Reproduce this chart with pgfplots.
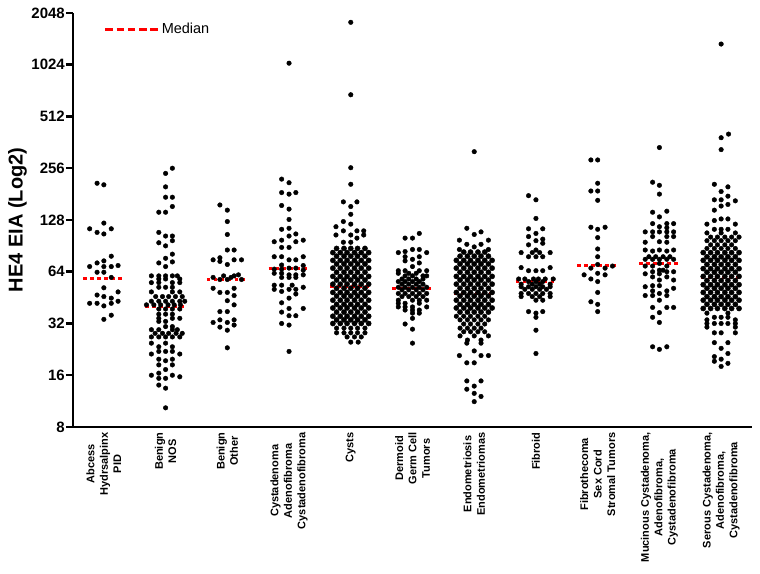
\documentclass[border=0pt]{standalone}
\usepackage{pgfplots}
\pgfplotsset{compat=1.18}
\usepackage{fontspec}
\setmainfont{Liberation Sans}
\usetikzlibrary{calc}
\begin{document}
\begin{tikzpicture}
\begin{axis}[name=ax,
  scale only axis, width=679pt, height=414pt,
  xmin=-0.5, xmax=10.5, ymin=3, ymax=11,
  axis lines*=left,
  axis line style={line width=2.8pt},
  xtick={0,...,10},
  xticklabels={{Abcess\\Hydrsalpinx\\PID},{Benign\\NOS},{Benign\\Other},{Cystadenoma\\Adenofibroma\\Cystadenofibroma},{Cysts},{Dermoid\\Germ Cell\\Tumors},{Endometriosis\\Endometriomas},{Fibroid},{Fibrothecoma\\Sex Cord\\Stromal Tumors},{Mucinous Cystadenoma,\\Adenofibroma,\\Cystadenofibroma},{Serous Cystadenoma,\\Adenofibroma,\\Cystadenofibroma}},
  xticklabel style={rotate=90, anchor=east, align=center, font=\fontsize{11}{13.4}\selectfont\bfseries},
  xticklabel shift=-5pt,
  xtick style={draw=none},
  ytick={3,...,11},
  yticklabels={\textbf{8},\textbf{16},\textbf{32},\textbf{64},\textbf{128},\textbf{256},\textbf{512},\textbf{1024},\textbf{2048}},
  yticklabel style={font=\fontsize{15}{17}\selectfont\bfseries, inner sep=1pt},
  ytick style={line width=2.5pt, black},
  tick align=outside, ytick pos=left,
  major tick length=7pt,
  ylabel={HE4 EIA (Log2)},
  ylabel style={font=\fontsize{20}{24}\selectfont\bfseries},
  clip=false,
  legend image code/.code={\draw[#1] (0pt,0pt) -- (53pt,0pt);},
  legend style={draw=none, fill=none, at={(rel axis cs:0.045,0.961)}, anchor=west, inner sep=0pt, font=\fontsize{14.5}{16}\selectfont},
  dots/.style={only marks, mark=*, mark size=2.3pt, color=black, mark options={fill=black, draw=black}, forget plot},
  densedots/.style={dots, mark size=2.6pt},
]
\addlegendimage{red, line width=3pt, dash pattern=on 7.5pt off 3.8pt}
\addlegendentry{Median}
% medians
\addplot[red, line width=3pt, dash pattern=on 3.5pt off 3.5pt, unbounded coords=jump, forget plot] coordinates {
(-0.33,5.86)(0.33,5.86)(0.5,nan)
(0.67,5.33)(1.33,5.33)(1.5,nan)
(1.67,5.85)(2.33,5.85)(2.5,nan)
(2.67,6.07)(3.33,6.07)(3.5,nan)
(3.67,5.71)(4.33,5.71)(4.5,nan)
(4.67,5.68)(5.33,5.68)(5.5,nan)
(5.67,5.58)(6.33,5.58)(6.5,nan)
(6.67,5.82)(7.33,5.82)(7.5,nan)
(7.67,6.13)(8.33,6.13)(8.5,nan)
(8.67,6.16)(9.33,6.16)(9.5,nan)
(9.67,5.885)(10.33,5.885)
};
% Abcess
\addplot[dots] coordinates {(-0.11,7.71)(0,7.68)(-0.23,6.83)(-0.11,6.76)(0,6.94)(0,6.73)(0.12,6.83)(0.12,6.30)(0,6.21)(-0.11,6.17)(-0.23,6.10)(0,6.10)(0.12,6.10)(0.23,6.12)(-0.11,5.99)(0,5.99)(0.12,5.89)(0,5.69)(0.23,5.61)(-0.11,5.55)(0,5.52)(0.12,5.49)(0.23,5.43)(-0.23,5.39)(-0.11,5.39)(0.12,5.39)(0,5.34)(0.12,5.16)(0,5.08)};
% Benign NOS
\addplot[dots] coordinates {(1.11,8.00)(1,7.90)(1,7.64)(1,7.44)(1.11,7.44)(1.11,7.26)(0.89,7.15)(1,7.15)(0.89,6.76)(1,6.69)(1.11,6.69)(1.11,6.60)(0.89,6.56)(1,6.50)(1.11,6.34)(1,6.26)(0.89,6.17)(1.11,6.19)(1,6.10)
(0.77,5.92)(0.89,5.92)(1,5.92)(1.11,5.92)(1.19,5.92)
(0.89,5.86)(1,5.86)(1.23,5.86)
(0.77,5.79)(0.89,5.79)(1.11,5.79)(1.23,5.79)
(0.89,5.70)(1,5.70)(1.11,5.70)
(0.77,5.61)(1.11,5.61)(1.23,5.61)
(0.84,5.52)(0.95,5.52)(1.05,5.52)(1.16,5.52)(1.27,5.52)
(0.77,5.43)(0.89,5.43)(1,5.43)(1.11,5.43)(1.23,5.43)(1.31,5.43)
(0.69,5.36)(0.81,5.36)(0.92,5.36)(1.04,5.36)(1.14,5.36)(1.24,5.36)
(0.89,5.28)(1,5.28)(1.11,5.28)(1.23,5.28)
(0.89,5.18)(1,5.18)(1.11,5.18)
(0.89,5.10)(1.11,5.10)(1.23,5.10)
(0.89,5.04)(1,5.04)
(1,4.94)(1.11,4.94)
(0.77,4.88)(0.89,4.88)(1.11,4.88)(1.19,4.88)
(0.83,4.81)(0.95,4.81)(1.05,4.81)(1.17,4.81)(1.27,4.81)
(0.77,4.74)(0.89,4.74)(1,4.74)(1.11,4.74)(1.23,4.74)
(0.77,4.62)(1,4.62)(0.89,4.55)(1.11,4.55)(0.89,4.46)(1,4.46)(1.11,4.46)(0.77,4.41)(1.23,4.41)
(0.89,4.31)(1.11,4.31)(1,4.28)(0.89,4.20)(1.11,4.20)(1,4.11)(0.89,4.04)(0.77,4.00)(1.11,4.00)(1.23,3.97)(0.89,3.94)(1,3.94)(0.89,3.81)(1,3.75)(1,3.37)};
% Benign Other
\addplot[dots] coordinates {(1.88,7.29)(2,7.19)(2,6.97)(2,6.72)(2,6.42)(2.11,6.42)(1.88,6.27)(1.88,6.20)(1.77,6.23)(2.11,6.23)(2.23,6.23)(2,6.14)(2.18,5.94)(1.94,5.92)(2.11,5.92)(1.77,5.89)(2.06,5.89)(1.88,5.85)(2,5.85)(2.23,5.85)(1.77,5.68)(2.11,5.68)(1.88,5.60)(2,5.60)(2.11,5.54)(2,5.44)(2.11,5.36)(1.88,5.23)(2,5.23)(1.88,5.07)(2.11,5.07)(1.77,5.02)(2,5.02)(2.11,4.97)(1.88,4.93)(2,4.87)(2,4.53)};
% Cystadenoma
\addplot[dots] coordinates {(3,10.03)(2.88,7.79)(3,7.72)(2.88,7.53)(3,7.50)(3.11,7.53)(2.88,7.28)(3,7.21)(3,7.01)(2.88,6.82)(3,6.84)(3.11,6.73)(3,6.69)(2.88,6.61)(3.23,6.61)(2.76,6.58)(3.11,6.58)(2.88,6.47)(3,6.47)(2.76,6.29)(2.88,6.29)(3.23,6.29)(3,6.23)(3.11,6.23)(2.88,6.13)(3.23,6.12)
(2.76,6.05)(2.88,6.05)(3,6.07)(3.11,6.07)(3.23,6.03)(2.76,5.97)(2.88,5.97)(3,5.94)(3.11,5.94)(3.23,5.94)(2.88,5.89)(3,5.89)(3.11,5.89)
(2.76,5.74)(2.88,5.74)(3.05,5.74)(3.23,5.70)(2.76,5.66)(3,5.66)(3.11,5.66)(2.88,5.62)(3.11,5.57)(3,5.49)(2.88,5.40)(3,5.29)(3.23,5.29)(2.88,5.22)(3,5.15)(3.11,5.15)(2.88,5.00)(3,4.97)(3,4.46)};
% Cysts
\addplot[dots] coordinates {(4,10.82)(4,9.42)(4,8.01)(4,7.69)(3.88,7.35)(4.10,7.35)(4,7.26)(4,7.11)(3.88,6.97)(4,6.92)(3.76,6.87)(3.88,6.79)(4.10,6.79)(4.21,6.79)(3.76,6.71)(4,6.71)(4.21,6.71)(4.10,6.65)(3.88,6.57)(4,6.57)};
\addplot[densedots] coordinates {
(3.77,6.45)(3.89,6.45)(4,6.45)(4.11,6.45)(4.23,6.45)
(3.71,6.37)(3.83,6.37)(3.94,6.37)(4.06,6.37)(4.17,6.37)(4.29,6.37)
(3.77,6.30)(3.89,6.30)(4,6.30)(4.11,6.30)(4.23,6.30)
(3.71,6.22)(3.83,6.22)(3.94,6.22)(4.06,6.22)(4.17,6.22)(4.29,6.22)
(3.77,6.15)(3.89,6.15)(4,6.15)(4.11,6.15)(4.23,6.15)
(3.71,6.07)(3.83,6.07)(3.94,6.07)(4.06,6.07)(4.17,6.07)(4.29,6.07)
(3.77,5.99)(3.89,5.99)(4,5.99)(4.11,5.99)(4.23,5.99)
(3.71,5.91)(3.83,5.91)(3.94,5.91)(4.06,5.91)(4.17,5.91)(4.29,5.91)
(3.77,5.84)(3.89,5.84)(4,5.84)(4.11,5.84)(4.23,5.84)
(3.71,5.76)(3.83,5.76)(3.94,5.76)(4.06,5.76)(4.17,5.76)(4.29,5.76)
(3.77,5.68)(3.89,5.68)(4,5.68)(4.11,5.68)(4.23,5.68)
(3.71,5.60)(3.83,5.60)(3.94,5.60)(4.06,5.60)(4.17,5.60)(4.29,5.60)
(3.77,5.53)(3.89,5.53)(4,5.53)(4.11,5.53)(4.23,5.53)
(3.71,5.45)(3.83,5.45)(3.94,5.45)(4.06,5.45)(4.17,5.45)(4.29,5.45)
(3.77,5.37)(3.89,5.37)(4,5.37)(4.11,5.37)(4.23,5.37)
(3.71,5.30)(3.83,5.30)(3.94,5.30)(4.06,5.30)(4.17,5.30)(4.29,5.30)
(3.77,5.22)(3.89,5.22)(4,5.22)(4.11,5.22)(4.23,5.22)
(3.71,5.14)(3.83,5.14)(3.94,5.14)(4.06,5.14)(4.17,5.14)(4.29,5.14)
(3.77,5.07)(3.89,5.07)(4,5.07)(4.11,5.07)(4.23,5.07)
(3.71,5.00)(3.83,5.00)(3.94,5.00)(4.06,5.00)(4.17,5.00)(4.29,5.00)};
\addplot[dots] coordinates {
(3.77,4.91)(3.89,4.91)(4,4.91)(4.11,4.91)(4.23,4.91)
(3.77,4.82)(3.89,4.82)(4,4.82)(4.11,4.82)(4.23,4.82)
(3.94,4.74)(4.06,4.74)(4.17,4.74)(4,4.64)(4.12,4.64)};
% Dermoid
\addplot[dots] coordinates {(5.11,6.74)(4.88,6.65)(5,6.65)(5,6.43)(5.11,6.43)(4.88,6.39)(4.77,6.37)(5.23,6.37)(4.88,6.29)(5.11,6.29)(5,6.24)(4.88,6.21)(5.11,6.17)(5,6.10)
(4.77,6.02)(4.88,6.02)(5.11,6.02)(5.23,6.02)(4.77,5.97)(4.94,5.97)(5.06,5.97)(4.88,5.92)(5,5.92)(5.17,5.92)(5.23,5.92)
(4.83,5.86)(4.94,5.86)(5.06,5.86)(5.17,5.86)(4.77,5.81)(4.88,5.81)(5,5.81)(5.11,5.81)
(4.83,5.76)(4.94,5.76)(5.06,5.76)(5.17,5.76)(4.77,5.70)(4.88,5.70)(5,5.70)(5.11,5.70)(5.23,5.70)
(4.83,5.65)(4.94,5.65)(5.06,5.65)(5.17,5.65)(4.77,5.58)(4.88,5.58)(5,5.58)(5.11,5.58)(5.23,5.58)
(4.83,5.52)(4.94,5.52)(5.06,5.52)(5.17,5.52)(4.77,5.45)(5,5.45)(5.11,5.45)(5.23,5.45)
(4.77,5.39)(4.88,5.39)(5.11,5.39)(4.77,5.32)(4.88,5.32)(5,5.32)(5.23,5.32)(4.88,5.26)(5,5.26)(5.11,5.26)
(5,5.20)(5.11,5.20)(5,5.10)(4.88,4.99)(5,4.89)(5,4.62)};
% Endometriosis
\addplot[dots] coordinates {(6,8.32)(5.88,6.84)(6.11,6.77)(6,6.72)(5.76,6.61)(6.23,6.61)(5.88,6.53)(6.11,6.53)(6,6.48)(5.76,6.43)(6.23,6.43)};
\addplot[densedots] coordinates {
(5.83,6.38)(5.94,6.38)(6.06,6.38)(6.17,6.38)
(5.77,6.30)(5.89,6.30)(6,6.30)(6.11,6.30)(6.23,6.30)
(5.71,6.22)(5.83,6.22)(5.94,6.22)(6.06,6.22)(6.17,6.22)(6.29,6.22)
(5.77,6.15)(5.89,6.15)(6,6.15)(6.11,6.15)(6.23,6.15)
(5.71,6.07)(5.83,6.07)(5.94,6.07)(6.06,6.07)(6.17,6.07)(6.29,6.07)
(5.77,5.99)(5.89,5.99)(6,5.99)(6.11,5.99)(6.23,5.99)
(5.71,5.91)(5.83,5.91)(5.94,5.91)(6.06,5.91)(6.17,5.91)(6.29,5.91)
(5.77,5.84)(5.89,5.84)(6,5.84)(6.11,5.84)(6.23,5.84)
(5.71,5.76)(5.83,5.76)(5.94,5.76)(6.06,5.76)(6.17,5.76)(6.29,5.76)
(5.77,5.68)(5.89,5.68)(6,5.68)(6.11,5.68)(6.23,5.68)
(5.71,5.60)(5.83,5.60)(5.94,5.60)(6.06,5.60)(6.17,5.60)(6.29,5.60)
(5.77,5.53)(5.89,5.53)(6,5.53)(6.11,5.53)(6.23,5.53)
(5.71,5.45)(5.83,5.45)(5.94,5.45)(6.06,5.45)(6.17,5.45)(6.29,5.45)
(5.77,5.37)(5.89,5.37)(6,5.37)(6.11,5.37)(6.23,5.37)
(5.71,5.30)(5.83,5.30)(5.94,5.30)(6.06,5.30)(6.17,5.30)(6.29,5.30)
(5.77,5.22)(5.89,5.22)(6,5.22)(6.11,5.22)(6.23,5.22)};
\addplot[dots] coordinates {
(5.71,5.14)(5.83,5.14)(5.94,5.14)(6.06,5.14)(6.17,5.14)
(5.77,5.07)(5.89,5.07)(6,5.07)(6.11,5.07)(6.23,5.07)
(5.83,4.99)(5.94,4.99)(6.06,4.99)(6.17,4.99)
(5.77,4.91)(5.89,4.91)(6,4.91)(6.11,4.91)
(5.83,4.84)(5.94,4.84)(6.06,4.84)(6.17,4.84)
(5.77,4.76)(6,4.76)(6.23,4.76)(5.89,4.68)(6.11,4.68)
(5.88,4.62)(6.11,4.62)(6,4.47)(5.76,4.38)(6.11,4.38)(6.23,4.38)(5.88,4.24)(6,4.24)(5.88,3.89)(6.11,3.89)(6,3.79)(5.88,3.73)(6,3.65)(6.11,3.59)(6,3.49)};
% Fibroid
\addplot[dots] coordinates {(6.88,7.47)(7,7.39)(7,7.03)(6.88,6.83)(7.11,6.83)(7,6.74)(6.88,6.68)(7.11,6.63)(7,6.60)(7.11,6.55)(6.88,6.52)(7,6.42)
(6.76,6.37)(6.94,6.37)(7.06,6.37)(7.23,6.37)(6.88,6.29)(7,6.29)(7.11,6.29)(6.76,6.08)(7.23,6.08)(6.88,6.02)(7,6.02)(7.11,6.02)
(6.72,5.86)(6.82,5.86)(6.96,5.86)(7.04,5.86)(7.15,5.86)(7.28,5.86)(6.88,5.81)(7,5.81)(7.11,5.81)
(6.76,5.76)(6.94,5.76)(7.06,5.76)(7.23,5.76)(6.76,5.71)(6.88,5.71)(7,5.71)(7.11,5.71)(7.23,5.71)
(6.82,5.66)(6.94,5.66)(7.06,5.66)(7.17,5.66)(6.76,5.58)(6.88,5.58)(7,5.58)(7.11,5.58)(7.23,5.58)
(6.76,5.52)(6.94,5.52)(7.06,5.52)(7.23,5.52)(7,5.45)(7.11,5.45)(6.88,5.23)(7.11,5.23)(7,5.20)(7,5.12)(7,4.87)(7,4.42)};
% Fibrothecoma
\addplot[dots] coordinates {(7.89,8.16)(8,8.16)(8,7.71)(7.89,7.56)(8,7.56)(8,7.38)(7.89,6.86)(8.12,6.86)(8,6.82)(8,6.66)(8,6.44)(8,6.29)(8,6.14)(8.24,6.11)(7.89,6.07)(8.12,6.07)(8,5.97)(7.78,5.94)(8.12,5.94)(7.89,5.86)(8,5.81)(8,5.60)(7.89,5.42)(8,5.37)(8,5.23)};
% Mucinous
\addplot[dots] coordinates {(9,8.40)(8.89,7.73)(9,7.67)(9,7.50)(8.89,7.15)(9.12,7.17)(9,7.06)(8.89,6.93)(9.12,6.93)(9.23,6.93)(9,6.87)(9.12,6.85)
(8.77,6.77)(8.89,6.77)(9,6.77)(9.12,6.77)(9.23,6.77)(8.89,6.68)(9.12,6.68)(9.23,6.68)(9,6.58)(8.77,6.57)(9.12,6.57)
(8.77,6.42)(9,6.42)(9.23,6.42)(8.89,6.40)(9.12,6.40)(8.83,6.29)(8.94,6.29)(9.06,6.29)(9.17,6.29)
(8.77,6.24)(8.89,6.24)(9,6.24)(9.12,6.24)(9.23,6.24)(9,6.16)(8.77,6.11)(8.89,6.11)(9.12,6.11)(9,6.03)(9.06,6.03)
(8.89,6.00)(9.12,6.00)(9.23,6.00)(8.77,5.96)(9,5.96)(8.89,5.90)(9.12,5.90)(9,5.84)(9.23,5.84)(8.89,5.73)(9,5.73)(8.77,5.71)(9.23,5.68)
(8.89,5.63)(9.12,5.63)(9,5.58)(8.77,5.54)(8.89,5.54)(9.12,5.54)(9,5.45)(8.89,5.31)(9.12,5.31)(9.23,5.31)(9,5.21)(8.89,5.12)(9,5.02)(8.89,4.55)(9.12,4.55)(9,4.50)};
% Serous
\addplot[dots] coordinates {(10,10.40)(10.12,8.66)(10,8.59)(10,8.36)(9.89,7.69)(10.11,7.64)(10,7.55)(10.11,7.46)(9.89,7.39)(10,7.39)(10.23,7.37)(10.11,7.30)(10,7.27)(9.89,7.19)(10,7.02)(10.11,7.02)(9.89,6.99)(9.77,6.92)(10.23,6.92)(9.89,6.82)(10,6.82)(10.11,6.82)(9.77,6.75)(10,6.75)(10.23,6.75)
(9.83,6.67)(9.94,6.67)(10.06,6.67)(10.17,6.67)(10.29,6.67)
(9.77,6.60)(9.89,6.60)(10,6.60)(10.11,6.60)(10.23,6.60)
(9.83,6.52)(9.94,6.52)(10.06,6.52)(10.17,6.52)
(9.77,6.45)(9.89,6.45)(10,6.45)(10.11,6.45)(10.23,6.45)};
\addplot[densedots] coordinates {
(9.71,6.37)(9.83,6.37)(9.94,6.37)(10.06,6.37)(10.17,6.37)(10.29,6.37)
(9.77,6.29)(9.89,6.29)(10,6.29)(10.11,6.29)(10.23,6.29)
(9.71,6.22)(9.83,6.22)(9.94,6.22)(10.06,6.22)(10.17,6.22)(10.29,6.22)
(9.77,6.14)(9.89,6.14)(10,6.14)(10.11,6.14)(10.23,6.14)
(9.71,6.06)(9.83,6.06)(9.94,6.06)(10.06,6.06)(10.17,6.06)(10.29,6.06)
(9.77,5.99)(9.89,5.99)(10,5.99)(10.11,5.99)(10.23,5.99)
(9.71,5.91)(9.83,5.91)(9.94,5.91)(10.06,5.91)(10.17,5.91)(10.29,5.91)
(9.77,5.83)(9.89,5.83)(10,5.83)(10.11,5.83)(10.23,5.83)
(9.71,5.75)(9.83,5.75)(9.94,5.75)(10.06,5.75)(10.17,5.75)(10.29,5.75)
(9.77,5.68)(9.89,5.68)(10,5.68)(10.11,5.68)(10.23,5.68)
(9.71,5.60)(9.83,5.60)(9.94,5.60)(10.06,5.60)(10.17,5.60)(10.29,5.60)
(9.77,5.52)(9.89,5.52)(10,5.52)(10.11,5.52)(10.23,5.52)
(9.71,5.45)(9.83,5.45)(9.94,5.45)(10.06,5.45)(10.17,5.45)(10.29,5.45)
(9.77,5.37)(9.89,5.37)(10,5.37)(10.11,5.37)(10.23,5.37)
(9.71,5.29)(9.83,5.29)(9.94,5.29)(10.06,5.29)(10.17,5.29)(10.29,5.29)};
\addplot[dots] coordinates {
(9.77,5.20)(10.11,5.20)(9.89,5.12)(10,5.12)(10.11,5.12)(9.77,5.07)(10.23,5.07)
(9.77,5.00)(9.89,5.00)(10,5.00)(10.11,5.00)(10.23,5.00)(9.77,4.93)(10.23,4.93)
(9.89,4.82)(10,4.82)(10.23,4.82)(9.89,4.63)(10.11,4.63)(10,4.52)(10.11,4.42)(9.89,4.36)(10,4.31)(9.89,4.27)(10.11,4.23)(10,4.17)};
\end{axis}
\pgfresetboundingbox
\path[use as bounding box] ($(ax.south west)+(-73pt,-147pt)$) rectangle ($(ax.north east)+(8pt,13pt)$);
\end{tikzpicture}
\end{document}
